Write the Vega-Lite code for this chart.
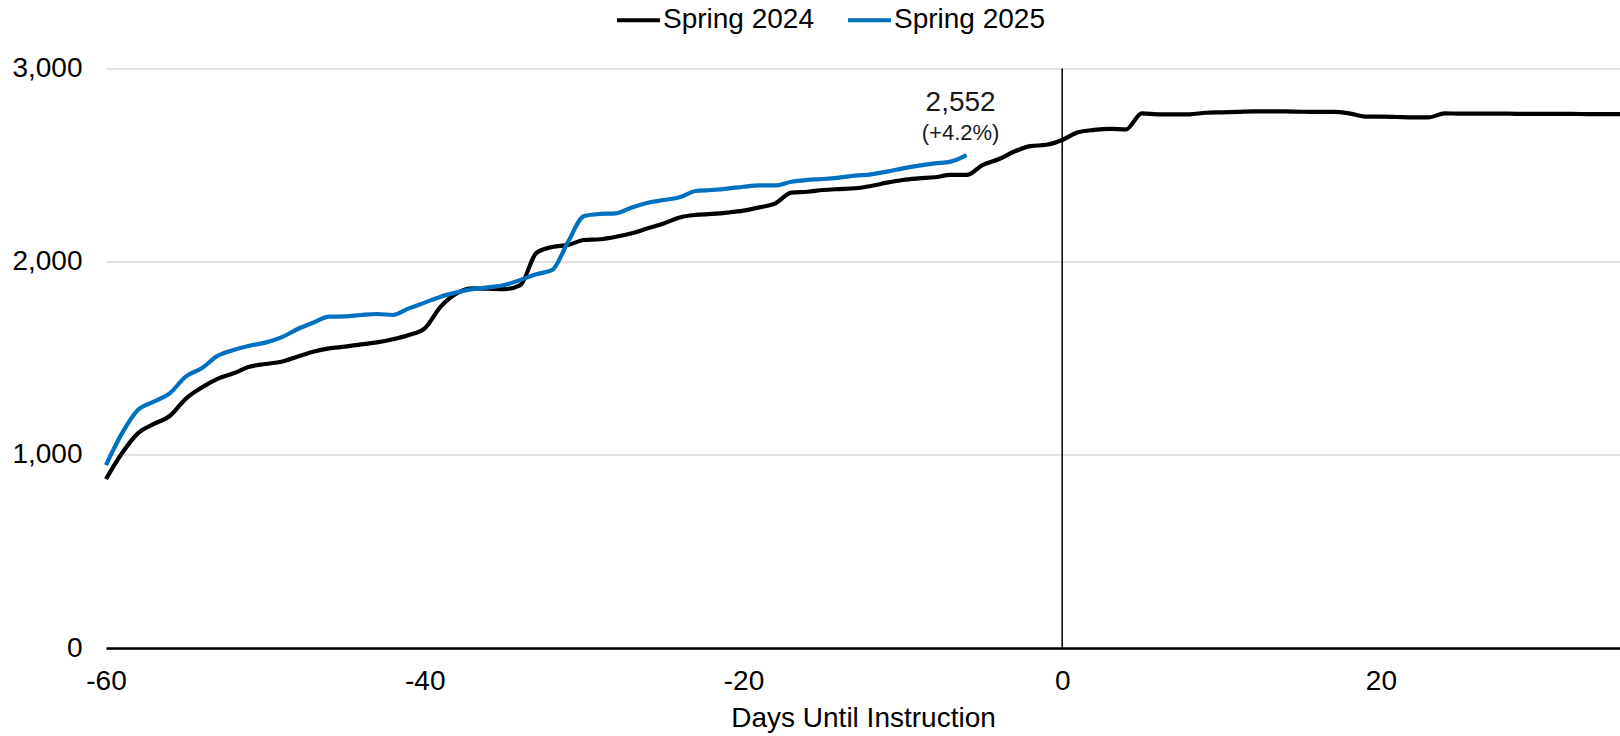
{
  "$schema": "https://vega.github.io/schema/vega-lite/v6.json",
  "width": 1514,
  "height": 579.5,
  "autosize": {"type": "none"},
  "padding": {"left": 106, "top": 68.5, "right": 0, "bottom": 88},
  "background": "#ffffff",
  "config": {
    "view": {"stroke": null},
    "font": "Liberation Sans",
    "text": {"font": "Liberation Sans"}
  },
  "datasets": {
    "enroll": [
      {"day": -60, "value": 875, "series": "Spring 2024"},
      {"day": -59, "value": 1008, "series": "Spring 2024"},
      {"day": -58, "value": 1111, "series": "Spring 2024"},
      {"day": -57, "value": 1160, "series": "Spring 2024"},
      {"day": -56, "value": 1201, "series": "Spring 2024"},
      {"day": -55, "value": 1290, "series": "Spring 2024"},
      {"day": -54, "value": 1348, "series": "Spring 2024"},
      {"day": -53, "value": 1393, "series": "Spring 2024"},
      {"day": -52, "value": 1422, "series": "Spring 2024"},
      {"day": -51, "value": 1456, "series": "Spring 2024"},
      {"day": -50, "value": 1470, "series": "Spring 2024"},
      {"day": -49, "value": 1482, "series": "Spring 2024"},
      {"day": -48, "value": 1508, "series": "Spring 2024"},
      {"day": -47, "value": 1534, "series": "Spring 2024"},
      {"day": -46, "value": 1551, "series": "Spring 2024"},
      {"day": -45, "value": 1560, "series": "Spring 2024"},
      {"day": -44, "value": 1572, "series": "Spring 2024"},
      {"day": -43, "value": 1582, "series": "Spring 2024"},
      {"day": -42, "value": 1598, "series": "Spring 2024"},
      {"day": -41, "value": 1620, "series": "Spring 2024"},
      {"day": -40, "value": 1655, "series": "Spring 2024"},
      {"day": -39, "value": 1767, "series": "Spring 2024"},
      {"day": -38, "value": 1836, "series": "Spring 2024"},
      {"day": -37, "value": 1862, "series": "Spring 2024"},
      {"day": -36, "value": 1860, "series": "Spring 2024"},
      {"day": -35, "value": 1858, "series": "Spring 2024"},
      {"day": -34, "value": 1879, "series": "Spring 2024"},
      {"day": -33, "value": 2045, "series": "Spring 2024"},
      {"day": -32, "value": 2076, "series": "Spring 2024"},
      {"day": -31, "value": 2087, "series": "Spring 2024"},
      {"day": -30, "value": 2112, "series": "Spring 2024"},
      {"day": -29, "value": 2116, "series": "Spring 2024"},
      {"day": -28, "value": 2129, "series": "Spring 2024"},
      {"day": -27, "value": 2147, "series": "Spring 2024"},
      {"day": -26, "value": 2173, "series": "Spring 2024"},
      {"day": -25, "value": 2198, "series": "Spring 2024"},
      {"day": -24, "value": 2229, "series": "Spring 2024"},
      {"day": -23, "value": 2242, "series": "Spring 2024"},
      {"day": -22, "value": 2247, "series": "Spring 2024"},
      {"day": -21, "value": 2254, "series": "Spring 2024"},
      {"day": -20, "value": 2264, "series": "Spring 2024"},
      {"day": -19, "value": 2281, "series": "Spring 2024"},
      {"day": -18, "value": 2302, "series": "Spring 2024"},
      {"day": -17, "value": 2357, "series": "Spring 2024"},
      {"day": -16, "value": 2362, "series": "Spring 2024"},
      {"day": -15, "value": 2371, "series": "Spring 2024"},
      {"day": -14, "value": 2376, "series": "Spring 2024"},
      {"day": -13, "value": 2380, "series": "Spring 2024"},
      {"day": -12, "value": 2392, "series": "Spring 2024"},
      {"day": -11, "value": 2409, "series": "Spring 2024"},
      {"day": -10, "value": 2423, "series": "Spring 2024"},
      {"day": -9, "value": 2431, "series": "Spring 2024"},
      {"day": -8, "value": 2437, "series": "Spring 2024"},
      {"day": -7, "value": 2449, "series": "Spring 2024"},
      {"day": -6, "value": 2449, "series": "Spring 2024"},
      {"day": -5, "value": 2500, "series": "Spring 2024"},
      {"day": -4, "value": 2530, "series": "Spring 2024"},
      {"day": -3, "value": 2570, "series": "Spring 2024"},
      {"day": -2, "value": 2598, "series": "Spring 2024"},
      {"day": -1, "value": 2605, "series": "Spring 2024"},
      {"day": 0, "value": 2630, "series": "Spring 2024"},
      {"day": 1, "value": 2670, "series": "Spring 2024"},
      {"day": 2, "value": 2682, "series": "Spring 2024"},
      {"day": 3, "value": 2687, "series": "Spring 2024"},
      {"day": 4, "value": 2685, "series": "Spring 2024"},
      {"day": 5, "value": 2768, "series": "Spring 2024"},
      {"day": 6, "value": 2763, "series": "Spring 2024"},
      {"day": 7, "value": 2763, "series": "Spring 2024"},
      {"day": 8, "value": 2763, "series": "Spring 2024"},
      {"day": 9, "value": 2771, "series": "Spring 2024"},
      {"day": 10, "value": 2773, "series": "Spring 2024"},
      {"day": 11, "value": 2775, "series": "Spring 2024"},
      {"day": 12, "value": 2778, "series": "Spring 2024"},
      {"day": 13, "value": 2778, "series": "Spring 2024"},
      {"day": 14, "value": 2778, "series": "Spring 2024"},
      {"day": 15, "value": 2776, "series": "Spring 2024"},
      {"day": 16, "value": 2775, "series": "Spring 2024"},
      {"day": 17, "value": 2775, "series": "Spring 2024"},
      {"day": 18, "value": 2768, "series": "Spring 2024"},
      {"day": 19, "value": 2751, "series": "Spring 2024"},
      {"day": 20, "value": 2751, "series": "Spring 2024"},
      {"day": 21, "value": 2749, "series": "Spring 2024"},
      {"day": 22, "value": 2747, "series": "Spring 2024"},
      {"day": 23, "value": 2747, "series": "Spring 2024"},
      {"day": 24, "value": 2768, "series": "Spring 2024"},
      {"day": 25, "value": 2766, "series": "Spring 2024"},
      {"day": 26, "value": 2766, "series": "Spring 2024"},
      {"day": 27, "value": 2766, "series": "Spring 2024"},
      {"day": 28, "value": 2766, "series": "Spring 2024"},
      {"day": 29, "value": 2765, "series": "Spring 2024"},
      {"day": 30, "value": 2765, "series": "Spring 2024"},
      {"day": 31, "value": 2765, "series": "Spring 2024"},
      {"day": 32, "value": 2765, "series": "Spring 2024"},
      {"day": 33, "value": 2764, "series": "Spring 2024"},
      {"day": 34, "value": 2764, "series": "Spring 2024"},
      {"day": 35, "value": 2764, "series": "Spring 2024"},
      {"day": -60, "value": 947, "series": "Spring 2025"},
      {"day": -59, "value": 1111, "series": "Spring 2025"},
      {"day": -58, "value": 1232, "series": "Spring 2025"},
      {"day": -57, "value": 1275, "series": "Spring 2025"},
      {"day": -56, "value": 1318, "series": "Spring 2025"},
      {"day": -55, "value": 1405, "series": "Spring 2025"},
      {"day": -54, "value": 1448, "series": "Spring 2025"},
      {"day": -53, "value": 1512, "series": "Spring 2025"},
      {"day": -52, "value": 1543, "series": "Spring 2025"},
      {"day": -51, "value": 1565, "series": "Spring 2025"},
      {"day": -50, "value": 1581, "series": "Spring 2025"},
      {"day": -49, "value": 1608, "series": "Spring 2025"},
      {"day": -48, "value": 1650, "series": "Spring 2025"},
      {"day": -47, "value": 1684, "series": "Spring 2025"},
      {"day": -46, "value": 1715, "series": "Spring 2025"},
      {"day": -45, "value": 1717, "series": "Spring 2025"},
      {"day": -44, "value": 1724, "series": "Spring 2025"},
      {"day": -43, "value": 1729, "series": "Spring 2025"},
      {"day": -42, "value": 1724, "series": "Spring 2025"},
      {"day": -41, "value": 1758, "series": "Spring 2025"},
      {"day": -40, "value": 1788, "series": "Spring 2025"},
      {"day": -39, "value": 1819, "series": "Spring 2025"},
      {"day": -38, "value": 1841, "series": "Spring 2025"},
      {"day": -37, "value": 1858, "series": "Spring 2025"},
      {"day": -36, "value": 1867, "series": "Spring 2025"},
      {"day": -35, "value": 1879, "series": "Spring 2025"},
      {"day": -34, "value": 1905, "series": "Spring 2025"},
      {"day": -33, "value": 1935, "series": "Spring 2025"},
      {"day": -32, "value": 1957, "series": "Spring 2025"},
      {"day": -31, "value": 2104, "series": "Spring 2025"},
      {"day": -30, "value": 2236, "series": "Spring 2025"},
      {"day": -29, "value": 2247, "series": "Spring 2025"},
      {"day": -28, "value": 2250, "series": "Spring 2025"},
      {"day": -27, "value": 2281, "series": "Spring 2025"},
      {"day": -26, "value": 2305, "series": "Spring 2025"},
      {"day": -25, "value": 2319, "series": "Spring 2025"},
      {"day": -24, "value": 2333, "series": "Spring 2025"},
      {"day": -23, "value": 2366, "series": "Spring 2025"},
      {"day": -22, "value": 2371, "series": "Spring 2025"},
      {"day": -21, "value": 2378, "series": "Spring 2025"},
      {"day": -20, "value": 2388, "series": "Spring 2025"},
      {"day": -19, "value": 2395, "series": "Spring 2025"},
      {"day": -18, "value": 2395, "series": "Spring 2025"},
      {"day": -17, "value": 2414, "series": "Spring 2025"},
      {"day": -16, "value": 2423, "series": "Spring 2025"},
      {"day": -15, "value": 2428, "series": "Spring 2025"},
      {"day": -14, "value": 2435, "series": "Spring 2025"},
      {"day": -13, "value": 2445, "series": "Spring 2025"},
      {"day": -12, "value": 2452, "series": "Spring 2025"},
      {"day": -11, "value": 2466, "series": "Spring 2025"},
      {"day": -10, "value": 2483, "series": "Spring 2025"},
      {"day": -9, "value": 2497, "series": "Spring 2025"},
      {"day": -8, "value": 2509, "series": "Spring 2025"},
      {"day": -7, "value": 2518, "series": "Spring 2025"},
      {"day": -6, "value": 2552, "series": "Spring 2025"}
    ],
    "marker": [{"day": 0}],
    "note1": [{"day": -6, "value": 2552, "label": "2,552"}],
    "note2": [{"day": -6, "value": 2552, "label": "(+4.2%)"}]
  },
  "layer": [
    {
      "data": {"name": "marker"},
      "mark": {"type": "rule", "color": "#000000", "strokeWidth": 1.5},
      "encoding": {
        "x": {"field": "day", "type": "quantitative", "scale": {"domain": [-60, 35], "nice": false, "zero": false}}
      }
    },
    {
      "data": {"name": "enroll"},
      "mark": {"type": "line", "strokeWidth": 4.2, "interpolate": "monotone"},
      "encoding": {
        "x": {
          "field": "day", "type": "quantitative",
          "scale": {"domain": [-60, 35], "nice": false, "zero": false},
          "axis": {
            "values": [-60, -40, -20, 0, 20],
            "labelExpr": "datum.value < 0 ? '-' + abs(datum.value) : '' + datum.value",
            "grid": false,
            "domain": true, "domainColor": "#000000", "domainWidth": 2.5,
            "ticks": false, "tickSize": 0,
            "labelFlush": false,
            "labelFont": "Liberation Sans", "labelFontSize": 28, "labelColor": "#000000", "labelPadding": 19,
            "title": "Days Until Instruction",
            "titleFont": "Liberation Sans", "titleFontSize": 28, "titleFontWeight": "normal", "titleColor": "#000000", "titlePadding": 9
          }
        },
        "y": {
          "field": "value", "type": "quantitative",
          "scale": {"domain": [0, 3000], "nice": false},
          "axis": {
            "values": [0, 1000, 2000, 3000],
            "format": ",.0f",
            "grid": true, "gridColor": "#d9d9d9", "gridWidth": 1.5,
            "domain": false, "ticks": false, "tickSize": 0,
            "labelFont": "Liberation Sans", "labelFontSize": 28, "labelColor": "#000000", "labelPadding": 24,
            "title": null
          }
        },
        "color": {
          "field": "series", "type": "nominal",
          "scale": {"domain": ["Spring 2024", "Spring 2025"], "range": ["#000000", "#0070C0"]},
          "legend": {
            "title": null,
            "orient": "none",
            "direction": "horizontal",
            "legendX": 509,
            "legendY": -72,
            "padding": 0,
            "symbolType": "stroke",
            "symbolSize": 1849,
            "symbolStrokeWidth": 4,
            "labelFont": "Liberation Sans", "labelFontSize": 28, "labelColor": "#000000",
            "labelOffset": 1,
            "columnPadding": 25
          }
        }
      }
    },
    {
      "data": {"name": "note1"},
      "mark": {"type": "text", "fontSize": 28, "color": "#1a1a1a", "dy": -52, "dx": -6, "align": "center", "baseline": "middle"},
      "encoding": {
        "x": {"field": "day", "type": "quantitative"},
        "y": {"field": "value", "type": "quantitative"},
        "text": {"field": "label"}
      }
    },
    {
      "data": {"name": "note2"},
      "mark": {"type": "text", "fontSize": 22, "color": "#1a1a1a", "dy": -22, "dx": -6, "align": "center", "baseline": "middle"},
      "encoding": {
        "x": {"field": "day", "type": "quantitative"},
        "y": {"field": "value", "type": "quantitative"},
        "text": {"field": "label"}
      }
    }
  ]
}
